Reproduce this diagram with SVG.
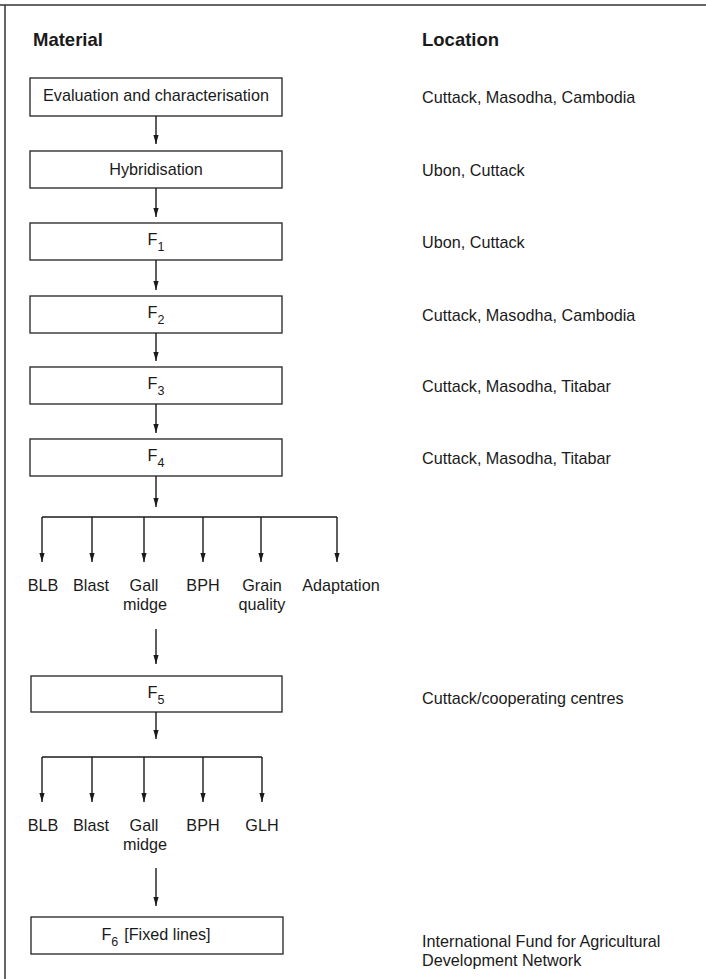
<svg xmlns="http://www.w3.org/2000/svg" width="706" height="979" viewBox="0 0 706 979">
<defs>
<marker id="ah" viewBox="0 0 9 6" refX="9" refY="3" markerWidth="9" markerHeight="6" markerUnits="userSpaceOnUse" orient="auto">
<path d="M0,0.4 L9,3 L0,5.6 z" fill="#1a1a1a"/>
</marker>
<style>
text{font-family:"Liberation Sans",Arial,sans-serif;fill:#1a1a1a;font-size:16.2px}
.h{font-weight:bold;font-size:18.5px}
.c{text-anchor:middle}
.sub{font-size:12.5px}
rect{fill:#fff;stroke:#222;stroke-width:1.3}
.ln{stroke:#1a1a1a;stroke-width:1.4;fill:none}
.ar{stroke:#1a1a1a;stroke-width:1.4;fill:none;marker-end:url(#ah)}
.fr{stroke:#333;stroke-width:1.5;fill:none}
</style>
</defs>
<rect x="0" y="0" width="706" height="979" style="fill:#fff;stroke:none"/>
<g id="frame">
<line class="fr" x1="0" y1="5" x2="706" y2="5"/>
<line class="fr" x1="5" y1="5" x2="5" y2="979"/>
</g>
<g id="headers">
<text class="h" x="33" y="46">Material</text>
<text class="h" x="422" y="46">Location</text>
</g>
<g id="n-eval"><rect x="30" y="78" width="252" height="38"/><text class="c" x="156" y="101">Evaluation and characterisation</text></g>
<g id="n-hyb"><rect x="30" y="151" width="252" height="37"/><text class="c" x="156" y="175">Hybridisation</text></g>
<g id="n-f1"><rect x="30" y="223" width="252" height="37"/><text class="c" x="156" y="245">F<tspan class="sub" dy="6">1</tspan></text></g>
<g id="n-f2"><rect x="30" y="296" width="252" height="37"/><text class="c" x="156" y="318">F<tspan class="sub" dy="6">2</tspan></text></g>
<g id="n-f3"><rect x="30" y="367" width="252" height="37"/><text class="c" x="156" y="389">F<tspan class="sub" dy="6">3</tspan></text></g>
<g id="n-f4"><rect x="30" y="439" width="252" height="37"/><text class="c" x="156" y="461">F<tspan class="sub" dy="6">4</tspan></text></g>
<g id="n-f5"><rect x="31" y="676" width="251" height="36"/><text class="c" x="156" y="698">F<tspan class="sub" dy="6">5</tspan></text></g>
<g id="n-f6"><rect x="31" y="917" width="252" height="37"/><text class="c" x="156" y="940">F<tspan class="sub" dy="6">6</tspan><tspan dy="-6" dx="6">[Fixed lines]</tspan></text></g>
<g id="traits1">
<text class="c" x="43" y="591">BLB</text>
<text class="c" x="91" y="591">Blast</text>
<text class="c" x="144" y="591">Gall</text>
<text class="c" x="145" y="610">midge</text>
<text class="c" x="203" y="591">BPH</text>
<text class="c" x="262" y="591">Grain</text>
<text class="c" x="262" y="610">quality</text>
<text class="c" x="341" y="591">Adaptation</text>
</g>
<g id="traits2">
<text class="c" x="43" y="831">BLB</text>
<text class="c" x="91" y="831">Blast</text>
<text class="c" x="144" y="831">Gall</text>
<text class="c" x="145" y="850">midge</text>
<text class="c" x="203" y="831">BPH</text>
<text class="c" x="262" y="831">GLH</text>
</g>
<g id="locations">
<text x="422" y="103">Cuttack, Masodha, Cambodia</text>
<text x="422" y="176">Ubon, Cuttack</text>
<text x="422" y="248">Ubon, Cuttack</text>
<text x="422" y="321">Cuttack, Masodha, Cambodia</text>
<text x="422" y="392">Cuttack, Masodha, Titabar</text>
<text x="422" y="464">Cuttack, Masodha, Titabar</text>
<text x="422" y="704">Cuttack/cooperating centres</text>
<text x="422" y="947">International Fund for Agricultural</text>
<text x="422" y="966">Development Network</text>
</g>
<g id="connectors">
<line class="ar" x1="156" y1="116" x2="156" y2="144"/>
<line class="ar" x1="156" y1="188" x2="156" y2="217"/>
<line class="ar" x1="156" y1="260" x2="156" y2="290"/>
<line class="ar" x1="156" y1="333" x2="156" y2="361"/>
<line class="ar" x1="156" y1="404" x2="156" y2="433"/>
<line class="ar" x1="156" y1="476" x2="156" y2="507"/>
<line class="ln" x1="42" y1="517" x2="337" y2="517"/>
<line class="ar" x1="42" y1="517" x2="42" y2="562"/>
<line class="ar" x1="92" y1="517" x2="92" y2="562"/>
<line class="ar" x1="144" y1="517" x2="144" y2="562"/>
<line class="ar" x1="203" y1="517" x2="203" y2="562"/>
<line class="ar" x1="261" y1="517" x2="261" y2="562"/>
<line class="ar" x1="337" y1="517" x2="337" y2="562"/>
<line class="ar" x1="156" y1="629" x2="156" y2="664"/>
<line class="ar" x1="156" y1="712" x2="156" y2="739"/>
<line class="ln" x1="42" y1="757" x2="262" y2="757"/>
<line class="ar" x1="42" y1="757" x2="42" y2="802"/>
<line class="ar" x1="92" y1="757" x2="92" y2="802"/>
<line class="ar" x1="144" y1="757" x2="144" y2="802"/>
<line class="ar" x1="203" y1="757" x2="203" y2="802"/>
<line class="ar" x1="262" y1="757" x2="262" y2="802"/>
<line class="ar" x1="156" y1="868" x2="156" y2="906"/>
</g>
</svg>
